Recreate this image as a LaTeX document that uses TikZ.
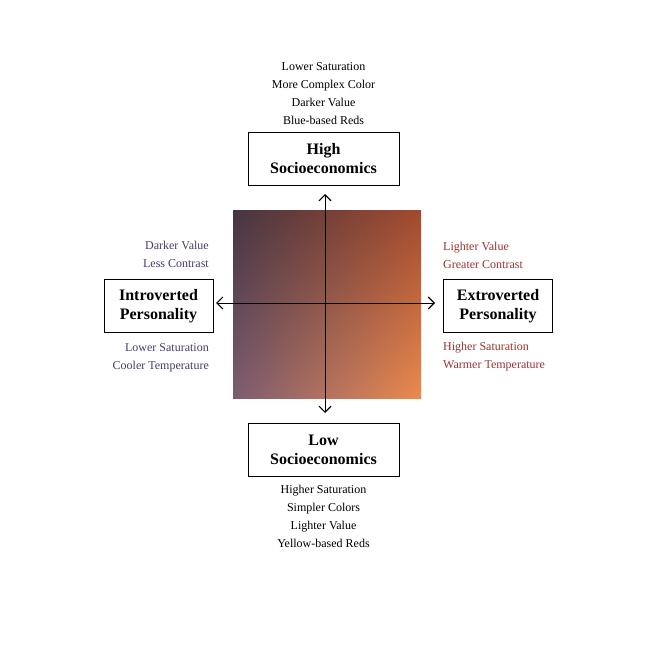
\documentclass[tikz,border=0pt]{standalone}
\usepackage{fontspec}
\setmainfont{Liberation Serif}
\usetikzlibrary{arrows.meta,shadings}
\definecolor{ltxt}{HTML}{4A3A6A}
\definecolor{rtxt}{HTML}{9A3030}
\definecolor{cul}{HTML}{453541}
\definecolor{cur}{HTML}{A24A2E}
\definecolor{cll}{HTML}{7C5C70}
\definecolor{clr}{HTML}{EC8A4E}
\begin{document}
\begin{tikzpicture}[x=1pt,y=-1pt,
  box/.style={draw,line width=0.9pt,minimum width=151pt,minimum height=53pt,font=\bfseries\fontsize{16}{19}\selectfont,align=center,inner sep=2pt},
  sbox/.style={box,minimum width=109pt},
  lbl/.style={font=\fontsize{12}{18}\selectfont,inner sep=0pt},
  axis/.style={line width=0.7pt,{Straight Barb[length=6pt,width=12pt,line width=1.1pt]}-{Straight Barb[length=6pt,width=12pt,line width=1.1pt]}}]
\useasboundingbox (0,0) rectangle (650,650);
\shade[upper left=cul,upper right=cur,lower left=cll,lower right=clr] (233,210) rectangle (421,398);
\coordinate (c) at (325,303);
\node[box] (hi) at (323.5,158.5) {High\\Socioeconomics};
\node[box] (lo) at (323.5,450) {Low\\Socioeconomics};
\node[sbox] (in) at (158.5,306) {Introverted\\Personality};
\node[sbox] (ex) at (498,306) {Extroverted\\Personality};
\coordinate (t) at (325,194);
\coordinate (b) at (325,413);
\coordinate (l) at (216,303);
\coordinate (r) at (435,303);
\draw[axis] (t) -- (b);
\draw[axis] (l) -- (r);
\node[lbl,align=center,anchor=south] (tt) at (323.5,125) {Lower Saturation\\More Complex Color\\Darker Value\\Blue-based Reds};
\node[lbl,align=center,anchor=north] (bt) at (323.5,485) {Higher Saturation\\Simpler Colors\\Lighter Value\\Yellow-based Reds};
\node[lbl,align=right,anchor=south east,text=ltxt] (lu) at (209,268) {Darker Value\\Less Contrast};
\node[lbl,align=right,anchor=north east,text=ltxt] (ll) at (209,343) {Lower Saturation\\Cooler Temperature};
\node[lbl,align=left,anchor=south west,text=rtxt] (ru) at (443,269) {Lighter Value\\Greater Contrast};
\node[lbl,align=left,anchor=north west,text=rtxt] (rl) at (443,342) {Higher Saturation\\Warmer Temperature};
\end{tikzpicture}
\end{document}
